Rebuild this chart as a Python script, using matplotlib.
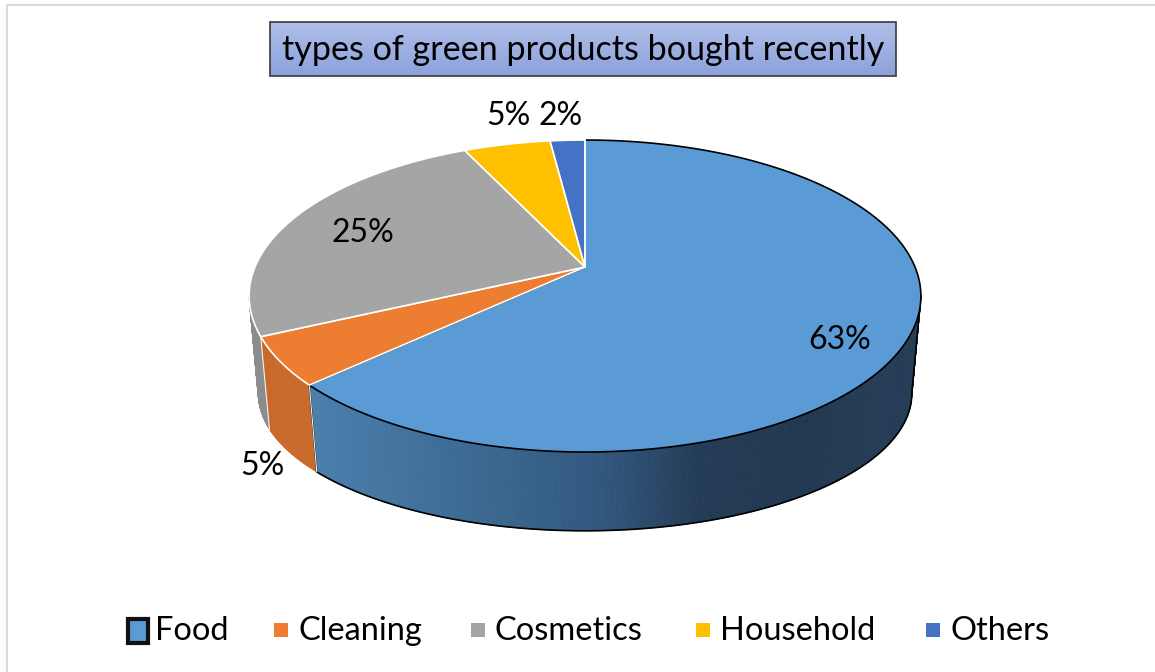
import numpy as np
import matplotlib.pyplot as plt
from matplotlib.patches import Polygon, Rectangle
from matplotlib.collections import PolyCollection

plt.rcParams['font.family'] = ['Lato', 'DejaVu Sans']

# data
categories = ['Food', 'Cleaning', 'Cosmetics', 'Household', 'Others']
shares = [63, 5, 25, 5, 2]
title = 'types of green products bought recently'

top_colors = ['#5b9bd5', '#ed7d31', '#a5a5a5', '#ffc000', '#4472c4']
side_colors = ['#345a80', '#c96a2c', '#8c8c8c', '#d9a300', '#3a62a8']
label_xy = [(840, 340), (262, 466), (363, 233), (508, 116), (561, 116)]
legend_sq_x = [138, 281, 478, 703, 933]

# pie geometry (pixels), simple perspective of a tilted disc
CX, CY = 585, 267
RX, RY = 330, 150.6
K = -0.186
DY, SX, SY = 101, 0.973, 0.88


def proj(th, bottom=False):
    t = np.radians(th)
    u = np.sin(t)
    v = -np.cos(t)
    d = 1 + K * v
    if bottom:
        return CX + SX * RX * u / d, CY + DY + SY * RY * v / d
    return CX + RX * u / d, CY + RY * v / d


def food_side_color(x):
    xs = [300, 450, 600, 700, 800, 920]
    cs = np.array([[76, 128, 174], [62, 108, 150], [50, 88, 126],
                   [36, 60, 86], [34, 56, 80], [37, 62, 88]]) / 255
    return [np.interp(x, xs, cs[:, j]) for j in range(3)]


fig = plt.figure(figsize=(11.55, 6.72), dpi=100)
ax = fig.add_axes([0, 0, 1, 1])
ax.set_xlim(0, 1155)
ax.set_ylim(672, 0)
ax.axis('off')

# chart frame
ax.plot([7, 7, 1160], [680, 5, 5], color='#d9d9d9', lw=1.5)

cum = np.concatenate([[0], np.cumsum(shares)]) / sum(shares) * 360
th_sil = np.degrees(np.arccos(K))

# sides
for i in range(len(shares)):
    a = max(cum[i], th_sil)
    b = min(cum[i + 1], 360 - th_sil)
    if a >= b:
        continue
    th = np.linspace(a, b, max(int((b - a) * 2), 4))
    xt, yt = proj(th)
    xb, yb = proj(th, bottom=True)
    polys, cols = [], []
    for j in range(len(th) - 1):
        polys.append([(xt[j], yt[j]), (xt[j + 1], yt[j + 1]),
                      (xb[j + 1], yb[j + 1]), (xb[j], yb[j])])
        if i == 0:
            cols.append(food_side_color((xt[j] + xt[j + 1]) / 2))
        else:
            cols.append(side_colors[i])
    ax.add_collection(PolyCollection(polys, facecolors=cols, edgecolors=cols, lw=0.6))
    if i == 0:
        ax.plot(xb, yb, color='black', lw=1.2)
        ax.plot([xt[0], xb[0]], [yt[0], yb[0]], color='black', lw=1.2)
        ax.plot([xt[-1], xb[-1]], [yt[-1], yb[-1]], color='black', lw=1.2)
    else:
        ax.plot([xt[0], xb[0]], [yt[0], yb[0]], color='#f2f2f2', lw=0.8)

# top faces
for i in range(len(shares)):
    th = np.linspace(cum[i], cum[i + 1], max(int((cum[i + 1] - cum[i]) * 2), 4))
    xt, yt = proj(th)
    pts = [(CX, CY)] + list(zip(xt, yt))
    ec = 'black' if i == 0 else 'white'
    ax.add_patch(Polygon(pts, closed=True, facecolor=top_colors[i],
                         edgecolor=ec, lw=1.2, zorder=3))
x0, y0 = proj(0)
ax.plot([CX, x0], [CY, y0], color='white', lw=1.2, zorder=4)

# value labels
for v, (lx, ly) in zip(shares, label_xy):
    ax.text(lx, ly, f'{v}%', fontsize=23, ha='center', va='center', zorder=5)

# title box with gradient fill
grad = np.linspace(0, 1, 64).reshape(-1, 1)
top_c = np.array([176, 190, 232]) / 255
bot_c = np.array([140, 162, 220]) / 255
img = top_c + (bot_c - top_c) * grad[..., None]
ax.imshow(img, extent=(270, 896, 76, 22), aspect='auto', zorder=5)
ax.add_patch(Rectangle((270, 22), 626, 54, fill=False, edgecolor='#3a3a3a', lw=1.2, zorder=6))
ax.text(583, 50, title, fontsize=24.6, ha='center', va='center', zorder=7)

# legend
for i, (name, sx) in enumerate(zip(categories, legend_sq_x)):
    if i == 0:
        ax.add_patch(Rectangle((sx - 10, 619), 20, 24, facecolor=top_colors[i],
                               edgecolor='#111111', lw=3, zorder=6))
    else:
        ax.add_patch(Rectangle((sx - 7, 623), 14, 14, facecolor=top_colors[i],
                               edgecolor='none', zorder=6))
    ax.text(sx + 17, 631, name, fontsize=23.5, ha='left', va='center', zorder=7)

fig.savefig('out.png', dpi=100, facecolor='white')
